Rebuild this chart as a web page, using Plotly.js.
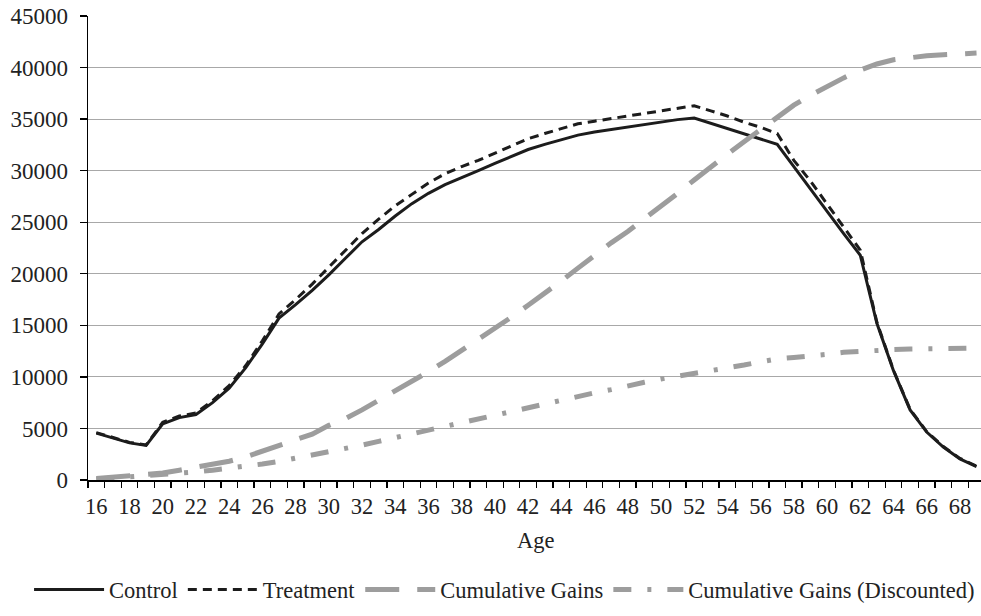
<!DOCTYPE html>
<html>
<head>
<meta charset="utf-8">
<script src="https://cdn.plot.ly/plotly-3.0.1.min.js"></script>
<style>
  html, body { margin: 0; padding: 0; background: #ffffff; }
  #chart { width: 981px; height: 616px; }
</style>
</head>
<body>
<div id="chart"></div>
<script>
// ---- Data ----
const ages = [16,17,18,19,20,21,22,23,24,25,26,27,28,29,30,31,32,33,34,35,36,37,38,39,40,41,42,
              43,44,45,46,47,48,49,50,51,52,53,54,55,56,57,58,59,60,61,62,63,64,65,66,67,68,69];

const tickAges = [16,18,20,22,24,26,28,30,32,34,36,38,40,42,44,46,48,50,52,54,56,58,60,62,64,66,68];

const control = [4550,4100,3600,3350,5450,6050,6350,7500,8900,10900,13200,15700,17000,18400,19900,
                 21500,23100,24300,25600,26800,27800,28650,29300,30000,30700,31400,32050,32550,33000,
                 33450,33750,34000,34250,34500,34750,34950,35100,34600,34100,33600,33100,32550,30400,
                 28200,26100,23900,21800,15200,10600,6800,4650,3200,2050,1300];

const treatment = [4600,4150,3650,3400,5600,6200,6500,7700,9150,11100,13500,16100,17500,19000,20600,
                   22200,23900,25300,26600,27700,28800,29700,30400,31000,31700,32400,33100,33600,34100,
                   34550,34800,35050,35300,35550,35800,36050,36300,35800,35300,34700,34200,33600,31000,
                   29000,26800,24600,22300,15300,10650,6850,4700,3250,2100,1350];

const cumulativeGains = [150,260,370,500,680,950,1250,1500,1820,2250,2800,3350,3850,4450,5300,
                         5950,6800,7700,8600,9550,10500,11500,12550,13600,14700,15800,16950,18100,19300,
                         20550,21800,23000,24100,25300,26500,27800,29100,30400,31600,32800,34000,35200,36350,
                         37300,38200,39000,39750,40350,40750,41000,41150,41250,41350,41400];

const cumulativeGainsDisc = [80,180,280,380,500,630,780,950,1130,1330,1550,1800,2100,2420,2720,
                             3020,3380,3750,4120,4500,4840,5220,5610,5950,6330,6720,7020,7400,7800,
                             8120,8450,8760,9150,9480,9800,10050,10300,10650,10900,11150,11460,11750,11880,
                             12000,12190,12380,12500,12570,12650,12700,12720,12730,12760,12780];

const seriesNames = ['Control', 'Treatment', 'Cumulative Gains', 'Cumulative Gains (Discounted)'];

// ---- Styling ----
const FONT = '"Liberation Serif", "Times New Roman", Times, serif';
const BLACK = '#1c1c1c';
const GRAY = '#9d9d9d';
const TXT = '#222222';

const traces = [
  { x: ages, y: control, name: seriesNames[0], mode: 'lines',
    line: { color: BLACK, width: 3 } },
  { x: ages, y: treatment, name: seriesNames[1], mode: 'lines',
    line: { color: BLACK, width: 3, dash: '9px,6px' } },
  { x: ages, y: cumulativeGains, name: seriesNames[2], mode: 'lines',
    line: { color: GRAY, width: 5, dash: '34px,18px' } },
  { x: ages, y: cumulativeGainsDisc, name: seriesNames[3], mode: 'lines',
    line: { color: GRAY, width: 5, dash: '18px,16px,4px,16px' } }
];

// plot area is 893px wide; each age occupies ~16.6px, first age centred half a slot in
const xMin = ages[0] - 0.5;
const xMax = xMin + 893 / 16.608;

const layout = {
  width: 981,
  height: 616,
  margin: { l: 88, r: 0, t: 16, b: 136, pad: 0 },
  paper_bgcolor: '#ffffff',
  plot_bgcolor: '#ffffff',
  font: { family: FONT, size: 22.5, color: TXT },
  showlegend: true,
  xaxis: {
    type: 'linear',
    range: [xMin, xMax],
    tickmode: 'array',
    tickvals: tickAges,
    ticktext: tickAges.map(String),
    ticks: '',
    ticklabelstandoff: 5,
    showgrid: false,
    zeroline: false,
    showline: true,
    linecolor: '#000000',
    linewidth: 1.5,
    tickfont: { family: FONT, size: 22.5, color: TXT },
    minor: {
      tickmode: 'linear',
      tick0: xMin,
      dtick: 1,
      ticks: 'outside',
      ticklen: 6,
      tickwidth: 1.3,
      tickcolor: '#000000',
      showgrid: false
    },
    fixedrange: true
  },
  yaxis: {
    range: [0, 45000],
    tickmode: 'linear',
    tick0: 0,
    dtick: 5000,
    tickformat: 'd',
    ticks: 'outside',
    ticklen: 7,
    tickwidth: 1.3,
    tickcolor: '#000000',
    ticklabelstandoff: 7,
    showgrid: true,
    gridcolor: '#a8a8a8',
    gridwidth: 1.2,
    zeroline: false,
    showline: true,
    linecolor: '#000000',
    linewidth: 1.5,
    tickfont: { family: FONT, size: 23, color: TXT },
    fixedrange: true
  },
  annotations: [
    { text: 'Age', xref: 'x', yref: 'paper', x: (xMin + ages[ages.length - 1] + 0.5) / 2, y: -0.131,
      xanchor: 'center', yanchor: 'middle', showarrow: false,
      font: { family: FONT, size: 22.5, color: TXT } }
  ],
  legend: {
    orientation: 'h',
    xref: 'paper',
    x: -0.066,
    xanchor: 'left',
    yref: 'paper',
    y: -0.237,
    yanchor: 'middle',
    itemwidth: 70,
    tracegroupgap: 0,
    borderwidth: 0,
    font: { family: FONT, size: 22.5, color: TXT },
    bgcolor: 'rgba(0,0,0,0)'
  }
};

Plotly.newPlot('chart', traces, layout, { displayModeBar: false, staticPlot: true });
</script>
</body>
</html>
